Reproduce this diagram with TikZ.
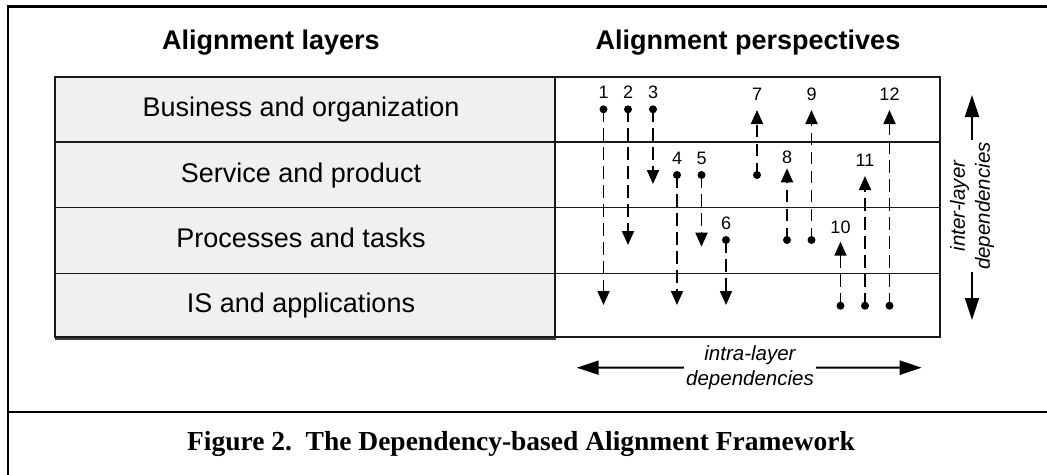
\documentclass[tikz,border=0pt]{standalone}
\usepackage{fontspec}
\setmainfont{Liberation Sans}
\newfontfamily\captionserif{Liberation Serif}
\usetikzlibrary{arrows.meta}

\begin{document}
\begin{tikzpicture}[x=1pt,y=-1pt,
  frameline/.style={line width=2.8pt},
  gridline/.style={line width=1.8pt, draw=black!90},
  header/.style={font=\fontsize{27}{32}\selectfont\bfseries, anchor=base, inner sep=0pt},
  layerlabel/.style={font=\fontsize{27}{32}\selectfont, anchor=base, inner sep=0pt},
  dot/.style={circle, fill=black, inner sep=0pt, minimum size=8pt},
  num/.style={font=\fontsize{18}{21}\selectfont, inner sep=0pt},
  dep/.style={line width=1.8pt, dash pattern=on 12.5pt off 6.5pt, -{Triangle[length=14pt,width=12pt]}},
  bigarrow/.style={line width=2pt, -{Triangle[length=22pt,width=14pt]}},
  note/.style={font=\fontsize{20.5}{25}\selectfont\itshape, align=center, inner sep=2pt},
]
\useasboundingbox (0,0) rectangle (1047,474);

% outer frame and caption divider
\draw[frameline] (8,476) -- (8,6.5) -- (1049,6.5);
\draw[frameline] (8,412) -- (1049,412);

% column headers
\node[header] (hl) at (271,49) {Alignment layers};
\node[header] (hp) at (748,49) {Alignment perspectives};

% layer table (shaded) and perspectives area
\draw[line width=1.2pt, black!75] (55,339) -- (556,339);
\filldraw[fill=black!6, gridline] (55,77) rectangle (555,337);
\draw[gridline] (555,77) rectangle (940,337);
\draw[gridline] (55,142) -- (940,142);
\draw[gridline] (55,207.5) -- (940,207.5);
\draw[gridline] (55,273.5) -- (940,273.5);

% layer names
\node[layerlabel] (l1) at (301,116.7) {Business and organization};
\node[layerlabel] (l2) at (301,182) {Service and product};
\node[layerlabel] (l3) at (301,247.7) {Processes and tasks};
\node[layerlabel] (l4) at (301,312.5) {IS and applications};

% numbered dependencies: source dot, arrow end, label
\foreach \i/\x/\dy/\ty/\ly in {
  1/603.5/109.3/305/92.3,
  2/628/109.3/245/92.3,
  3/653/109.3/184/92.3,
  4/677/175/305/158.5,
  5/701.5/175/246.7/158.5,
  6/726/240/305/223,
  7/757/175/110/94,
  8/787/240/168.3/157.3,
  9/811.5/240/110/94,
  10/840.5/305.7/241.7/227.7,
  11/865/305.7/176/160.7,
  12/889.5/305.7/110/94} {
  \node[dot] (d\i) at (\x,\dy) {};
  \coordinate (t\i) at (\x,\ty);
  \node[num] (n\i) at (\x,\ly) {\i};
  \draw[dep] (d\i.center) -- (t\i);
}

% inter-layer dependencies
\node[note, rotate=90] (inter) at (972,206) {inter-layer\\dependencies};
\coordinate (upT) at (972,95);
\coordinate (downT) at (972,320);
\draw[bigarrow] (inter.east) -- (upT);
\draw[bigarrow] (inter.west) -- (downT);

% intra-layer dependencies
\node[note] (intra) at (750,367.5) {intra-layer\\dependencies};
\coordinate (leftT) at (576.7,367.7);
\coordinate (rightT) at (921.7,367.7);
\draw[bigarrow] (intra.west) -- (leftT);
\draw[bigarrow] (intra.east) -- (rightT);

% caption
\node[font=\captionserif\bfseries\fontsize{27.5}{33}\selectfont, anchor=base, inner sep=0pt] (cap) at (521,450)
  {Figure 2.\ \ The Dependency-based Alignment Framework};
\end{tikzpicture}
\end{document}
